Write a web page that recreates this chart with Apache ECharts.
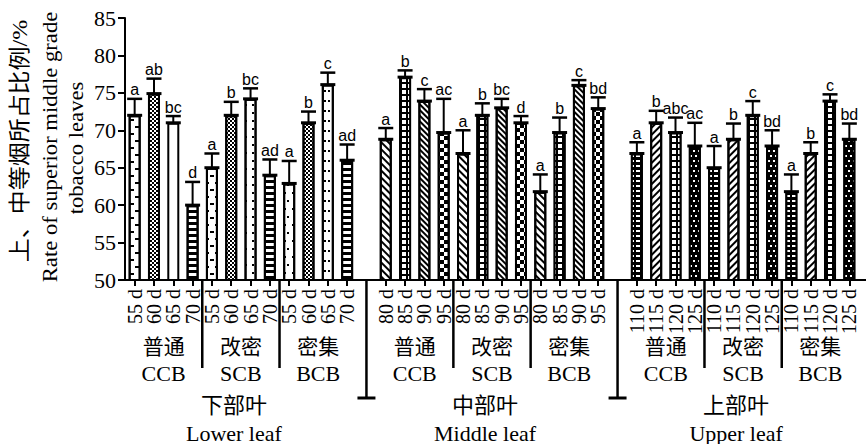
<!DOCTYPE html>
<html><head><meta charset="utf-8">
<script src="https://cdn.jsdelivr.net/npm/echarts@6/dist/echarts.min.js"></script>
<style>html,body{margin:0;padding:0;background:#fff}#c{width:866px;height:444px}</style>
</head><body><div id="c"></div>
<script>
// ---------- data ----------
const leafNamesZh = ['下部叶','中部叶','上部叶'];
const leafNamesEn = ['Lower leaf','Middle leaf','Upper leaf'];
const barnNamesZh = ['普通','改密','密集'];
const barnNamesEn = ['CCB','SCB','BCB'];
const lowerDays = ['55 d','60 d','65 d','70 d'];
const middleDays = ['80 d','85 d','90 d','95 d'];
const upperDays = ['110 d','115 d','120 d','125 d'];

const lowerValues  = [72.0,74.9,71.0,60.0, 65.0,72.0,74.2,64.0, 62.9,71.0,76.1,66.0];
const lowerErrors  = [2.2,2.0,0.9,3.1, 1.9,1.8,1.4,2.1, 3.0,1.5,1.6,2.1];
const lowerLetters = ['a','ab','bc','d','a','b','bc','ad','a','b','c','ad'];
const middleValues  = [68.8,77.1,73.9,69.7, 66.9,72.0,73.0,71.0, 61.8,69.7,76.0,72.9];
const middleErrors  = [1.5,0.9,1.6,4.5, 3.1,1.6,1.2,0.9, 2.3,2.0,0.7,1.5];
const middleLetters = ['a','b','c','ac','a','b','bc','d','a','b','c','bd'];
const upperValues  = [66.9,71.0,69.7,67.9, 65.0,68.8,72.0,67.9, 61.8,66.9,73.9,68.8];
const upperErrors  = [1.5,1.6,2.0,3.1, 2.9,2.1,1.9,2.1, 2.3,1.5,0.9,2.1];
const upperLetters = ['a','b','abc','ac','a','b','c','bd','a','b','c','bd'];
const yMin = 50, yMax = 85, yStep = 5;
const yTitleZh = '上、中等烟所占比例/%';
const yTitleEn1 = 'Rate of superior middle grade';
const yTitleEn2 = 'tobacco leaves';

// ---------- styles (patterns) ----------
const PAT = {
  plain:  {bg:'#fff', decal:null},
  dash:   {bg:'#fff', decal:{symbol:'rect', symbolSize:1, dashArrayX:[[4,6],[0,5,4,1]], dashArrayY:[1.5,5], color:'#000'}},
  fine:   {bg:'#fff', decal:{symbol:'rect', symbolSize:1, dashArrayX:[[2,2],[0,2,2,0]], dashArrayY:[2,0], color:'#000'}},
  hline:  {bg:'#fff', decal:{symbol:'rect', symbolSize:1, dashArrayX:[[1,0]], dashArrayY:[2.5,3], color:'#000'}},
  dots:   {bg:'#fff', decal:{symbol:'rect', symbolSize:1, dashArrayX:[[2,5],[0,3.5,2,1.5]], dashArrayY:[2,6], color:'#000'}},
  dots2:  {bg:'#fff', decal:{symbol:'rect', symbolSize:1, dashArrayX:[[2,2,2,6]], dashArrayY:[2,8], color:'#000'}},
  diag:   {bg:'#fff', decal:{symbol:'rect', symbolSize:1, dashArrayX:[[1,0]], dashArrayY:[1.6,2.4], rotation:Math.PI/4, color:'#000'}},
  diag2:  {bg:'#fff', decal:{symbol:'rect', symbolSize:1, dashArrayX:[[1,0]], dashArrayY:[2,2], rotation:Math.PI/4, color:'#000'}},
  rdiag:  {bg:'#fff', decal:{symbol:'rect', symbolSize:1, dashArrayX:[[1,0]], dashArrayY:[1.8,2.4], rotation:-Math.PI/4, color:'#000'}},
  grid:   {bg:'#000', decal:{symbol:'rect', symbolSize:1, dashArrayX:[[3.2,1.5]], dashArrayY:[3.2,1.5], color:'#fff'}},
  checker:{bg:'#fff', decal:{symbol:'rect', symbolSize:1, dashArrayX:[[3.5,3.5],[0,3.5,3.5,0]], dashArrayY:[3.5,0], color:'#000'}},
  brick:  {bg:'#000', decal:{symbol:'rect', symbolSize:1, dashArrayX:[[4,2]], dashArrayY:[1.5,3], color:'#fff'}},
  dark:   {bg:'#000', decal:{symbol:'rect', symbolSize:1, dashArrayX:[[2,3],[0,3,2,0]], dashArrayY:[1.2,2.5], color:'#fff'}}
};
const lowerPatterns  = ['dash','fine','plain','hline','dash','fine','dots','hline','dots','fine','dots2','hline'];
const middlePatterns = ['diag','grid','diag2','checker','diag','grid','diag2','checker','diag','grid','diag2','checker'];
const upperPatterns  = ['brick','rdiag','grid','dark','brick','rdiag','grid','dark','brick','rdiag','grid','dark'];

// ---------- build ----------
const groups = [
  {days:lowerDays, vals:lowerValues, errs:lowerErrors, lets:lowerLetters, pats:lowerPatterns},
  {days:middleDays, vals:middleValues, errs:middleErrors, lets:middleLetters, pats:middlePatterns},
  {days:upperDays, vals:upperValues, errs:upperErrors, lets:upperLetters, pats:upperPatterns}
];
const categories = [], labels = [], barData = [], errData = [], allLetters = [];
groups.forEach((g, gi) => {
  if (gi > 0) { categories.push('gap' + gi); labels.push(''); barData.push('-'); }
  for (let b = 0; b < 3; b++) {
    for (let d = 0; d < 4; d++) {
      const k = b * 4 + d;
      const idx = categories.length;
      categories.push(gi + '-' + b + '-' + g.days[d]);
      labels.push(g.days[d]);
      const p = PAT[g.pats[k]];
      const item = {value: g.vals[k], itemStyle: {color: p.bg}};
      if (p.decal) item.itemStyle.decal = p.decal;
      barData.push(item);
      errData.push([idx, g.vals[k], g.errs[k]]);
      allLetters.push(g.lets[k]);
    }
  }
});

const SERIF = '"Liberation Serif","Times New Roman","Noto Sans CJK SC",serif';
const SANS = '"Liberation Sans",Arial,sans-serif';

function renderErr(params, api) {
  const i = api.value(0), v = api.value(1), e = api.value(2);
  const base = api.coord([i, v]);
  const top = api.coord([i, v + e]);
  const hw = 7.5;
  return {type:'group', children:[
    {type:'line', shape:{x1:base[0], y1:base[1], x2:top[0], y2:top[1]}, style:{stroke:'#000', lineWidth:2}},
    {type:'line', shape:{x1:top[0]-hw, y1:top[1], x2:top[0]+hw, y2:top[1]}, style:{stroke:'#000', lineWidth:2.5}},
    {type:'line', shape:{x1:base[0]-hw, y1:base[1], x2:base[0]+hw, y2:base[1]}, style:{stroke:'#000', lineWidth:3}},
    {type:'text', x: top[0], y: top[1] - 1, style:{text: allLetters[params.dataIndex], fill:'#000',
      font:'16px ' + SANS, align:'center', verticalAlign:'bottom', textAlign:'center', textVerticalAlign:'bottom'}}
  ]};
}

const chart = echarts.init(document.getElementById('c'), null, {renderer:'svg'});
chart.setOption({
  animation: false,
  backgroundColor: '#fff',
  grid: {left:125, right:7, top:18, bottom:164, containLabel:false, outerBoundsMode:'none'},
  xAxis: {
    type:'category', data: categories,
    axisLine: {show:true, onZero:false, lineStyle:{color:'#000', width:2}},
    axisTick: {show:true, alignWithLabel:true, length:6, interval:(i)=>labels[i] !== '', lineStyle:{color:'#000', width:2}},
    axisLabel: {interval:0, rotate:90, margin:9, fontSize:20, fontFamily:SERIF, color:'#000',
      formatter:(v, i)=>labels[i]},
    splitLine: {show:false}
  },
  yAxis: {
    type:'value', min:yMin, max:yMax, interval:yStep,
    axisLine: {show:true, lineStyle:{color:'#000', width:2}},
    axisTick: {show:true, inside:false, length:7, lineStyle:{color:'#000', width:2}},
    axisLabel: {fontSize:22, fontFamily:SERIF, color:'#000', margin:9},
    splitLine: {show:false}
  },
  series: [
    {type:'bar', data: barData, barWidth:12, z:2,
     itemStyle:{borderColor:'#000', borderWidth:2}},
    {type:'custom', data: errData, renderItem: renderErr, z:3, encode:{x:0, y:[1,2]}}
  ]
});

// ---------- annotations positioned from the axis scale ----------
function cx(i) { return chart.convertToPixel({xAxisIndex:0}, categories[i]); }
const y0 = chart.convertToPixel({yAxisIndex:0}, yMin);
const gfx = [];
const lineStyle = {stroke:'#000', lineWidth:2.5};
function txt(x, y, text, size, extra) {
  return Object.assign({type:'text', x:x, y:y, style:{text:text, font:size + 'px ' + SERIF, fill:'#000',
    align:'center', verticalAlign:'middle', textAlign:'center', textVerticalAlign:'middle'}}, extra || {});
}
for (let gi = 0; gi < 3; gi++) {
  const s = gi * 13;
  for (let b = 0; b < 3; b++) {
    const st = s + b * 4;
    const c = (cx(st + 1) + cx(st + 2)) / 2;
    gfx.push(txt(c, y0 + 67, barnNamesZh[b], 21));
    gfx.push(txt(c, y0 + 93, barnNamesEn[b], 22));
    if (b < 2) {
      const sx = (cx(st + 3) + cx(st + 4)) / 2;
      gfx.push({type:'line', shape:{x1:sx, y1:y0, x2:sx, y2:y0 + 88}, style:lineStyle});
    }
  }
  const gc = (cx(s + 5) + cx(s + 6)) / 2 - 7;
  gfx.push(txt(gc, y0 + 125, leafNamesZh[gi], 22));
  gfx.push(txt(gc, y0 + 153, leafNamesEn[gi], 22));
  if (gi > 0) {
    const bx = cx(s - 1);
    gfx.push({type:'line', shape:{x1:bx, y1:y0, x2:bx, y2:y0 + 118}, style:lineStyle});
    gfx.push({type:'line', shape:{x1:bx - 9, y1:y0 + 118, x2:bx + 9, y2:y0 + 118}, style:{stroke:'#000', lineWidth:3}});
  }
}
// axis line continues to the right edge as in the reference
const xEnd = cx(categories.length - 1) + (cx(1) - cx(0)) / 2;
gfx.push({type:'line', shape:{x1:xEnd - 1, y1:y0, x2:866, y2:y0}, style:{stroke:'#000', lineWidth:2}});

const yMid = chart.convertToPixel({yAxisIndex:0}, (yMin + yMax) / 2);
gfx.push(txt(19, yMid - 8, yTitleZh, 22, {rotation:Math.PI/2, scaleX:1.09}));
gfx.push(txt(50, yMid - 2, yTitleEn1, 22, {rotation:Math.PI/2, scaleX:1.03}));
gfx.push(txt(76, yMid - 1, yTitleEn2, 22, {rotation:Math.PI/2, scaleX:1.03}));
chart.setOption({graphic: gfx});
</script>
</body></html>
